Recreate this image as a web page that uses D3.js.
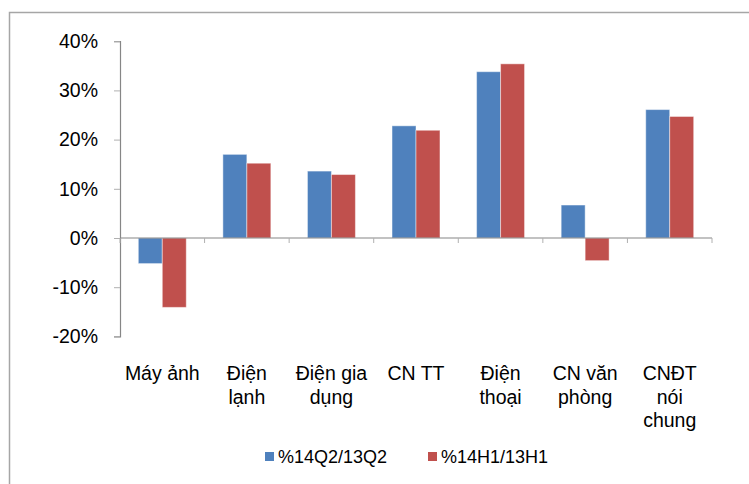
<!DOCTYPE html>
<html>
<head>
<meta charset="utf-8">
<script src="https://cdn.jsdelivr.net/npm/d3@7"></script>
<style>
  body { margin: 0; background: #fff; }
  text { font-family: "Liberation Sans", Arial, sans-serif; fill: #000; }
</style>
</head>
<body>
<div id="chart"></div>
<script>
// categories (label lines as shown under the axis)
var categories = ["Máy ảnh", "Điện lạnh", "Điện gia dụng", "CN TT", "Điện thoại", "CN văn phòng", "CNĐT nói chung"];
var categoryLines = [["Máy ảnh"], ["Điện", "lạnh"], ["Điện gia", "dụng"], ["CN TT"], ["Điện", "thoại"], ["CN văn", "phòng"], ["CNĐT", "nói", "chung"]];
var seriesNames = ["%14Q2/13Q2", "%14H1/13H1"];
var q2Values = [-5.2, 17.0, 13.6, 22.8, 33.8, 6.7, 26.1];
var h1Values = [-14.1, 15.2, 12.9, 21.9, 35.4, -4.6, 24.7];
var yTicks = [-20, -10, 0, 10, 20, 30, 40];
var colors = ["#4F81BD", "#C0504D"];

var W = 749, H = 484;
var svg = d3.select("#chart").append("svg")
  .attr("width", W)
  .attr("height", H);

// outer frame (runs off the right and bottom edges)
svg.append("path")
  .attr("d", "M9.5," + H + "V12.5H" + W)
  .attr("fill", "none")
  .attr("stroke", "#a6a6a6")
  .attr("stroke-width", 1.5);

var left = 120, right = 712;
var x0 = d3.scaleBand().domain(categories).range([left, right]).padding(0);
var bw = x0.bandwidth();
var x1 = d3.scaleBand().domain(seriesNames).range([bw * 0.2165, bw * 0.7835]);

var y = d3.scaleLinear().domain([-20, 40]).range([336.4, 41.2]);

// y axis
var yAxis = d3.axisLeft(y).tickValues(yTicks).tickSize(6).tickPadding(16)
  .tickFormat(function (d) { return d + "%"; });
var gy = svg.append("g").attr("transform", "translate(" + left + ",0)").call(yAxis);
gy.select(".domain").attr("stroke", "#868686").attr("stroke-width", 1.2);
gy.selectAll(".tick line").attr("stroke", "#b0b0b0");
gy.selectAll(".tick text").attr("font-size", "19.5px")
  .style("font-family", "'Liberation Sans', Arial, sans-serif").attr("fill", "#000");

// bars
var rows = categories.map(function (c, i) { return { cat: c, vals: [q2Values[i], h1Values[i]] }; });
var groups = svg.append("g").selectAll("g").data(rows).enter().append("g")
  .attr("transform", function (d) { return "translate(" + x0(d.cat) + ",0)"; });

groups.selectAll("rect")
  .data(function (d) { return d.vals.map(function (v, k) { return { s: seriesNames[k], v: v, k: k }; }); })
  .enter().append("rect")
  .attr("x", function (d) { return x1(d.s); })
  .attr("width", x1.bandwidth())
  .attr("y", function (d) { return y(Math.max(0, d.v)); })
  .attr("height", function (d) { return Math.abs(y(d.v) - y(0)); })
  .attr("fill", function (d) { return colors[d.k]; })
  .attr("stroke", "rgba(255,255,255,0.45)")
  .attr("stroke-width", 1);

// x axis at zero with category boundary ticks
var boundaries = categories.map(function (c) { return x0(c); }).concat([right]);
svg.append("line")
  .attr("x1", left).attr("x2", right)
  .attr("y1", y(0)).attr("y2", y(0))
  .attr("stroke", "#868686").attr("stroke-width", 1.2);
svg.append("g").selectAll("line").data(boundaries).enter().append("line")
  .attr("x1", function (d) { return d; }).attr("x2", function (d) { return d; })
  .attr("y1", y(0)).attr("y2", y(0) + 5)
  .attr("stroke", "#b0b0b0");

// category labels
var labels = svg.append("g").selectAll("text").data(categories).enter().append("text")
  .attr("text-anchor", "middle")
  .attr("font-size", "19.5px")
  .attr("x", function (d) { return x0(d) + bw / 2; })
  .attr("y", 380);
labels.each(function (d, i) {
  var t = d3.select(this);
  categoryLines[i].forEach(function (line, j) {
    t.append("tspan")
      .attr("x", x0(d) + bw / 2)
      .attr("y", 380 + j * 23.5)
      .text(line);
  });
});

// legend
var legendX = [265, 428];
var legend = svg.append("g").selectAll("g").data(seriesNames).enter().append("g")
  .attr("transform", function (d, i) { return "translate(" + legendX[i] + ",452)"; });
legend.append("rect").attr("width", 9).attr("height", 9)
  .attr("fill", function (d, i) { return colors[i]; });
legend.append("text").attr("x", 13).attr("y", 11).attr("font-size", "18px")
  .text(function (d) { return d; });
</script>
</body>
</html>
